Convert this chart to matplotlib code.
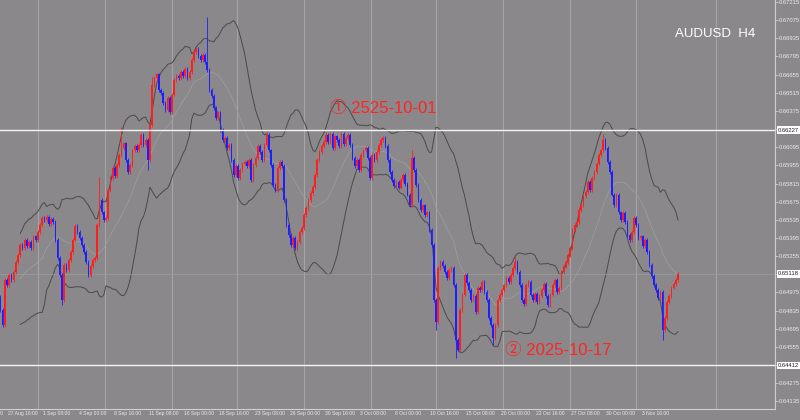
import numpy as np
import pandas as pd
import matplotlib
matplotlib.use("Agg")
import matplotlib.pyplot as plt
from matplotlib.transforms import blended_transform_factory

# ---------------- data (AUDUSD H4) ----------------
first_open = 0.64940
closes = [
    0.64840, 0.64724, 0.65071, 0.65033, 0.65110, 0.65071, 0.65133, 0.65210, 0.65264, 0.65341,
    0.65318, 0.65380, 0.65333, 0.65364, 0.65318, 0.65410, 0.65380, 0.65441, 0.65495, 0.65549,
    0.65534, 0.65557, 0.65503, 0.65542, 0.65518, 0.65380, 0.65241, 0.65110, 0.64917, 0.65187,
    0.65148, 0.65225, 0.65287, 0.65380, 0.65488, 0.65441, 0.65395, 0.65341, 0.65287, 0.65210,
    0.65110, 0.65179, 0.65225, 0.65241, 0.65495, 0.65688, 0.65595, 0.65534, 0.65549, 0.65765,
    0.65858, 0.65935, 0.65873, 0.65958, 0.66035, 0.66089, 0.66127, 0.65996, 0.65904, 0.65958,
    0.66073, 0.66104, 0.66073, 0.66112, 0.66189, 0.66112, 0.66151, 0.65996, 0.66266, 0.66575,
    0.66629, 0.66659, 0.66536, 0.66513, 0.66436, 0.66382, 0.66474, 0.66366, 0.66498, 0.66613,
    0.66644, 0.66629, 0.66675, 0.66644, 0.66698, 0.66629, 0.66675, 0.66767, 0.66829, 0.66852,
    0.66798, 0.66767, 0.66806, 0.66752, 0.66690, 0.66536, 0.66490, 0.66397, 0.66320, 0.66366,
    0.66228, 0.66151, 0.66166, 0.66089, 0.66112, 0.65996, 0.65881, 0.65950, 0.65858, 0.65919,
    0.65966, 0.65981, 0.65950, 0.65996, 0.65842, 0.65958, 0.66012, 0.66104, 0.66058, 0.65996,
    0.66112, 0.66189, 0.66073, 0.65958, 0.65804, 0.65765, 0.65935, 0.65981, 0.65950, 0.65688,
    0.65495, 0.65418, 0.65341, 0.65395, 0.65318, 0.65364, 0.65441, 0.65472, 0.65572, 0.65626,
    0.65688, 0.65742, 0.65788, 0.65881, 0.65996, 0.66058, 0.66104, 0.66135, 0.66189, 0.66135,
    0.66197, 0.66089, 0.66181, 0.66151, 0.66104, 0.66197, 0.66120, 0.66166, 0.66189, 0.66112,
    0.66012, 0.65950, 0.65996, 0.65919, 0.66035, 0.66073, 0.66089, 0.66012, 0.65858, 0.66035,
    0.65996, 0.66058, 0.66112, 0.66151, 0.66166, 0.66104, 0.65996, 0.65904, 0.65842, 0.65796,
    0.65827, 0.65781, 0.65842, 0.65881, 0.65811, 0.65727, 0.65649, 0.66012, 0.65919, 0.65804,
    0.65688, 0.65611, 0.65649, 0.65572, 0.65595, 0.65457, 0.65341, 0.64917, 0.64747, 0.65164,
    0.65210, 0.65179, 0.65133, 0.65087, 0.65148, 0.65164, 0.65033, 0.64609, 0.64532, 0.64840,
    0.64956, 0.65110, 0.65048, 0.64994, 0.64917, 0.64948, 0.64824, 0.65010, 0.64994, 0.65056,
    0.64979, 0.64917, 0.64778, 0.64724, 0.64624, 0.64724, 0.64917, 0.64956, 0.64994, 0.65033,
    0.65087, 0.65056, 0.65110, 0.65164, 0.65210, 0.65133, 0.65033, 0.64917, 0.64886, 0.65033,
    0.65056, 0.64956, 0.64917, 0.64963, 0.64902, 0.64948, 0.64994, 0.65040, 0.64948, 0.64878,
    0.64956, 0.65033, 0.65071, 0.64979, 0.65010, 0.65133, 0.65179, 0.65210, 0.65264, 0.65318,
    0.65457, 0.65495, 0.65518, 0.65611, 0.65649, 0.65719, 0.65750, 0.65827, 0.65765, 0.65858,
    0.65904, 0.65966, 0.66035, 0.66073, 0.66151, 0.66089, 0.65981, 0.65904, 0.65727, 0.65649,
    0.65727, 0.65595, 0.65534, 0.65588, 0.65518, 0.65418, 0.65380, 0.65441, 0.65549, 0.65495,
    0.65395, 0.65410, 0.65333, 0.65380, 0.65287, 0.65187, 0.65102, 0.65033, 0.64994, 0.64932,
    0.64979, 0.64686, 0.64778, 0.64902, 0.64948, 0.65010, 0.65040, 0.65071, 0.65118,
]
# notable wick extremes (bar index -> price)
wick_highs = {45: 0.65865, 55: 0.66251, 69: 0.66640, 94: 0.67099, 121: 0.66215,
              148: 0.66215, 150: 0.66215, 155: 0.66215, 187: 0.66073, 234: 0.65249,
              274: 0.66200}
wick_lows = {28: 0.64878, 67: 0.65919, 198: 0.64686, 207: 0.64470, 224: 0.64570,
             301: 0.64609}
default_wick = 0.00012

date_labels = ["25 Aug 00:00", "27 Aug 16:00", "1 Sep 08:00", "4 Sep 00:00", "8 Sep 16:00",
               "11 Sep 08:00", "16 Sep 00:00", "18 Sep 16:00", "23 Sep 08:00", "26 Sep 00:00",
               "30 Sep 16:00", "3 Oct 08:00", "8 Oct 00:00", "10 Oct 16:00", "15 Oct 08:00",
               "20 Oct 00:00", "22 Oct 16:00", "27 Oct 08:00", "30 Oct 00:00", "3 Nov 16:00"]
date_label_first_bar = -13
date_label_step = 16

price_ticks = [round(0.67215 - 0.0014 * k, 5) for k in range(23)]
level_1 = 0.66227
level_2 = 0.64412
title_text = "AUDUSD  H4"
note_1 = "\u2460 2525-10-01"
note_2 = "\u2461 2025-10-17"

# ---------------- figure ----------------
BG = "#8a888a"
UP = "#ff1e1e"
DN = "#1e1eff"
TXT = "#ececec"

fig = plt.figure(figsize=(8, 4.2), dpi=100, facecolor=BG)
ax = fig.add_axes([0, 11 / 420, 775 / 800, 409 / 420])
ax.set_facecolor(BG)

n = len(closes)
x = np.arange(n)
c = np.array(closes)
o = np.concatenate([[first_open], c[:-1]])
hi = np.maximum(o, c) + default_wick
lo = np.minimum(o, c) - default_wick
for k, v in wick_highs.items():
    hi[k] = max(hi[k], v)
for k, v in wick_lows.items():
    lo[k] = min(lo[k], v)
cols = np.where(c >= o, UP, DN)

# vertical grid lines (layout, axes fraction)
for px in [38, 105, 172, 237, 304, 371, 436, 503, 570, 636, 716]:
    ax.plot([px / 775, px / 775], [0, 1], color="#a6a4a6", lw=0.8,
            transform=ax.transAxes, zorder=0)

# Bollinger bands (20, 2)
s = pd.Series(c)
mid = s.rolling(20, min_periods=10).mean()
sd = s.rolling(20, min_periods=10).std(ddof=0)
ax.plot(x, mid, color="#999e9c", lw=0.6, zorder=1)
ax.plot(x, mid + 2 * sd, color="#4a4a4a", lw=0.7, zorder=1)
ax.plot(x, mid - 2 * sd, color="#4a4a4a", lw=0.7, zorder=1)

# candles
ax.vlines(x, lo, hi, colors=cols, lw=0.6, zorder=3)
ax.bar(x, np.maximum(np.abs(c - o), 0.00002), bottom=np.minimum(o, c), width=0.75,
       color=cols, linewidth=0, zorder=3)

# horizontal levels
ax.axhline(level_1, color="#f4f4f4", lw=1.0, zorder=4)
ax.axhline(level_2, color="#f4f4f4", lw=1.0, zorder=4)
ax.axhline(closes[-1], color="#97a09d", lw=0.5, zorder=2)

ax.set_xlim(-0.4 / 2.2, (775 - 0.4) / 2.2)
ax.set_ylim(0.6723 - 0.0000771 * 409, 0.6723)

# axes style
for sp in ["top", "left"]:
    ax.spines[sp].set_visible(False)
for sp in ["right", "bottom"]:
    ax.spines[sp].set_color("#cfcfcf")
    ax.spines[sp].set_linewidth(0.8)
ax.set_xticks([])
ax.yaxis.tick_right()
ax.set_yticks(price_ticks)
boxed = [level_1, closes[-1], level_2]
ylabels = []
for p in price_ticks:
    hidden = any(abs(p - b) < 0.0004 for b in boxed)
    ylabels.append("" if hidden else f"{p:.5f}")
ax.set_yticklabels(ylabels)
ax.tick_params(axis="y", colors="#cfcfcf", labelcolor=TXT, length=2, width=0.6,
               pad=1.0, labelsize=4.2)
for lab in ax.get_yticklabels():
    lab.set_family("Liberation Sans")

# right-hand value boxes
bt = blended_transform_factory(ax.transAxes, ax.transData)
for val in boxed:
    ax.text(1.004, val, f"{val:.5f}", transform=bt, ha="left", va="center",
            fontsize=4.2, family="Liberation Sans", color="#202020", clip_on=False,
            zorder=6, bbox=dict(boxstyle="square,pad=0.25", fc="white", ec="none"))

# date labels along bottom
xt = blended_transform_factory(ax.transData, ax.transAxes)
for k, lab in enumerate(date_labels):
    bx = date_label_first_bar + date_label_step * k
    ax.text(bx + 0.5, -0.006, lab, transform=xt, ha="left", va="top", fontsize=3.6,
            family="Liberation Sans", color=TXT, clip_on=False)

# annotations
fam = ["Liberation Sans", "Noto Sans CJK JP", "DejaVu Sans"]
ax.text(149.8, 0.6723 - 0.0000771 * 108, note_1, ha="left", va="center", fontsize=12,
        color="#ff2424", family=fam, zorder=7)
ax.text(229.4, 0.6723 - 0.0000771 * 351, note_2, ha="left", va="center", fontsize=12,
        color="#ff2424", family=fam, zorder=7)
fig.text(675 / 800, 1 - 34 / 420, title_text, ha="left", va="center", fontsize=9.5,
         color="white", family="Liberation Sans")

fig.savefig("out.png", dpi=100, facecolor=BG)
